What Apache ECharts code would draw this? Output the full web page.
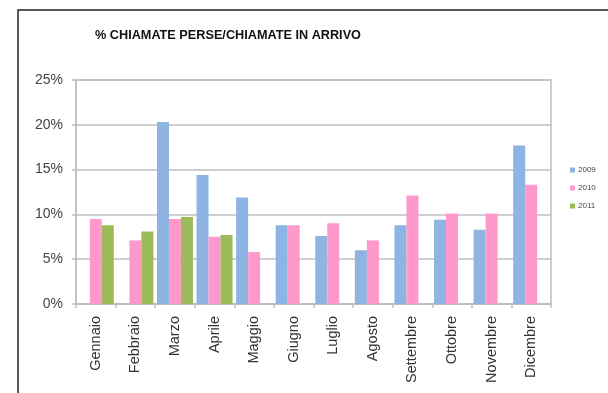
<!DOCTYPE html>
<html>
<head>
<meta charset="utf-8">
<script src="https://cdn.jsdelivr.net/npm/echarts@6/dist/echarts.min.js"></script>
<style>
  html, body { margin: 0; padding: 0; background: #fff; }
  #chart { width: 608px; height: 393px; }
</style>
</head>
<body>
<div id="chart"></div>
<script>
// Months on the category axis
const months = ['Gennaio', 'Febbraio', 'Marzo', 'Aprile', 'Maggio', 'Giugno',
  'Luglio', 'Agosto', 'Settembre', 'Ottobre', 'Novembre', 'Dicembre'];

// Percentage of lost calls over incoming calls, per year (null = no data)
const years = ['2009', '2010', '2011'];
const values2009 = [null, null, 20.3, 14.4, 11.9, 8.8, 7.6, 6.0, 8.8, 9.4, 8.3, 17.7];
const values2010 = [9.5, 7.1, 9.5, 7.5, 5.8, 8.8, 9.0, 7.1, 12.1, 10.1, 10.1, 13.3];
const values2011 = [8.8, 8.1, 9.7, 7.7, null, null, null, null, null, null, null, null];

// Value axis ticks
const yTicks = [0, 5, 10, 15, 20, 25];

const colors = ['#8db4e2', '#ff99cc', '#9bbb59'];
const axisGray = '#bfbfbf';
const font = 'Liberation Sans, Arial, sans-serif';

const chart = echarts.init(document.getElementById('chart'), null, { renderer: 'canvas' });

const seriesData = [values2009, values2010, values2011];

chart.setOption({
  animation: false,
  backgroundColor: '#ffffff',
  color: colors,
  title: {
    text: '% CHIAMATE PERSE/CHIAMATE IN ARRIVO',
    left: 90,
    top: 24,
    textStyle: { fontFamily: font, fontSize: 12.7, fontWeight: 'bold', color: '#111' }
  },
  graphic: [{
    type: 'rect',
    silent: true,
    z: 100,
    shape: { x: 18, y: 10, width: 700, height: 500 },
    style: { fill: 'none', stroke: '#222', lineWidth: 1.5 }
  }],
  legend: {
    orient: 'vertical',
    left: 565,
    top: 161,
    itemWidth: 5,
    itemHeight: 5,
    itemGap: 10,
    icon: 'rect',
    data: years,
    textStyle: { fontFamily: font, fontSize: 8, color: '#444', padding: [0, 0, 0, -2] }
  },
  grid: {
    left: 76,
    right: 57,
    top: 80,
    bottom: 89,
    show: true,
    borderColor: axisGray,
    borderWidth: 1.5
  },
  xAxis: {
    type: 'category',
    data: months,
    axisLine: { lineStyle: { color: axisGray, width: 1.5 } },
    axisTick: { show: true, length: 4, lineStyle: { color: axisGray, width: 1.5 } },
    axisLabel: {
      rotate: 90,
      margin: 12,
      interval: 0,
      fontFamily: font,
      fontSize: 14.5,
      color: '#333'
    }
  },
  yAxis: {
    type: 'value',
    min: yTicks[0],
    max: yTicks[yTicks.length - 1],
    interval: yTicks[1] - yTicks[0],
    axisLine: { show: true, lineStyle: { color: axisGray, width: 1.5 } },
    axisTick: { show: true, length: 4, lineStyle: { color: axisGray, width: 1.5 } },
    splitLine: { lineStyle: { color: axisGray, width: 1.5 } },
    axisLabel: {
      formatter: '{value}%',
      margin: 13,
      fontFamily: font,
      fontSize: 14,
      color: '#444'
    }
  },
  series: years.map((name, i) => ({
    name: name,
    type: 'bar',
    data: seriesData[i],
    barGap: '0%',
    barCategoryGap: '9%',
    itemStyle: { color: colors[i] }
  }))
});
</script>
</body>
</html>
